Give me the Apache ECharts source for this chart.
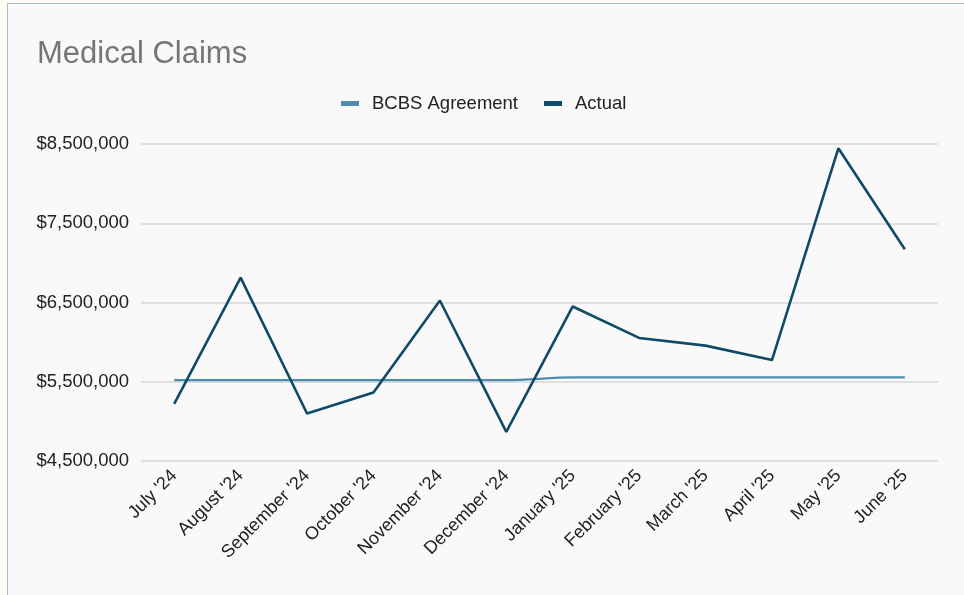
<!DOCTYPE html>
<html>
<head>
<meta charset="utf-8">
<title>Medical Claims</title>
<script src="https://cdn.jsdelivr.net/npm/echarts@6/dist/echarts.min.js"></script>
<style>
  html, body { margin: 0; padding: 0; background: #fdfdf6; }
  #chart {
    position: absolute; left: 7px; top: 3px; width: 957px; height: 592px;
    border-left: 1px solid #a9bccb; border-top: 1px solid #a9bccb;
    background: #f9f9f9;
  }
</style>
</head>
<body>
<div id="chart"></div>
<script>
// months shown on the x axis
var months = ["July '24", "August '24", "September '24", "October '24", "November '24", "December '24",
  "January '25", "February '25", "March '25", "April '25", "May '25", "June '25"];

// values
var bcbsAgreement = [5520000, 5520000, 5520000, 5520000, 5520000, 5520000,
  5555000, 5555000, 5555000, 5555000, 5555000, 5555000];
var actual = [5222000, 6813000, 5099000, 5365000, 6525000, 4867000,
  6450000, 6053000, 5956000, 5774000, 8446000, 7171000];

// y axis ticks
var yTicks = [4500000, 5500000, 6500000, 7500000, 8500000];

function money(v) {
  return '$' + v.toString().replace(/\B(?=(\d{3})+(?!\d))/g, ',');
}

var chart = echarts.init(document.getElementById('chart'));
chart.setOption({
  backgroundColor: 'transparent',
  title: {
    text: 'Medical Claims',
    left: 24,
    top: 30,
    textStyle: { fontFamily: 'Liberation Sans', fontSize: 31, fontWeight: 'normal', color: '#767676' }
  },
  legend: {
    top: 85,
    left: 328,
    icon: 'rect',
    itemWidth: 18,
    itemHeight: 5,
    itemGap: 26,
    textStyle: { fontFamily: 'Liberation Sans', fontSize: 18.5, color: '#222', padding: [0, 0, 0, 8] },
    data: ['BCBS Agreement', 'Actual']
  },
  grid: { left: 133, right: 27, top: 140, bottom: 135, containLabel: false },
  xAxis: {
    type: 'category',
    data: months,
    boundaryGap: true,
    axisLine: { show: false },
    axisTick: { show: false },
    axisLabel: {
      rotate: 45,
      margin: 12,
      fontFamily: 'Liberation Sans',
      fontSize: 18,
      color: '#222'
    }
  },
  yAxis: {
    type: 'value',
    min: 4500000,
    max: 8500000,
    axisLine: { show: false },
    axisTick: { show: false, customValues: yTicks },
    axisLabel: {
      customValues: yTicks,
      margin: 12,
      fontFamily: 'Liberation Sans',
      fontSize: 18.5,
      color: '#222',
      formatter: money
    },
    splitLine: { lineStyle: { color: '#d6d6d6', width: 1.5 } }
  },
  series: [
    {
      name: 'BCBS Agreement',
      type: 'line',
      data: bcbsAgreement,
      smooth: 0.3,
      symbol: 'none',
      color: '#4f8db0',
      lineStyle: { width: 2.2, color: '#4f8db0' }
    },
    {
      name: 'Actual',
      type: 'line',
      data: actual,
      symbol: 'none',
      color: '#0f4a68',
      lineStyle: { width: 2.6, color: '#0f4a68' }
    }
  ]
});
</script>
</body>
</html>
